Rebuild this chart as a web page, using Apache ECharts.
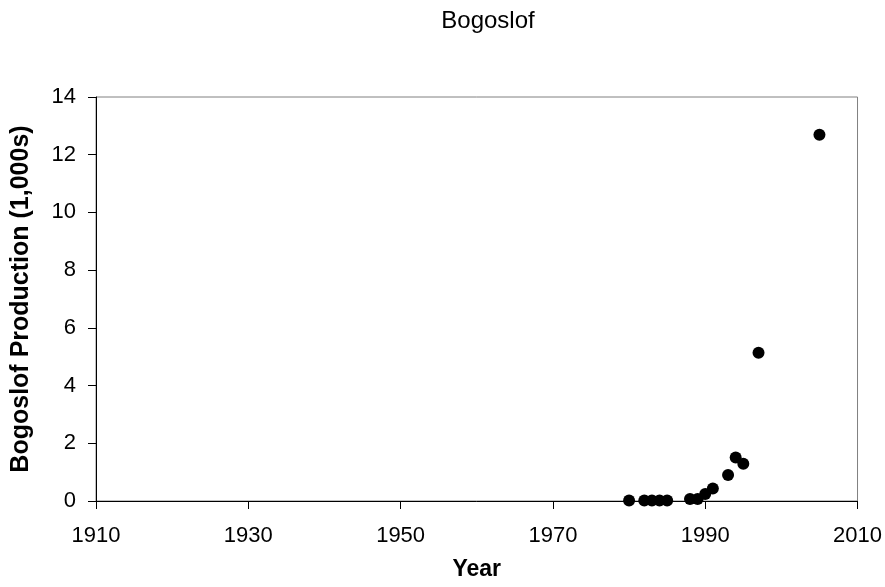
<!DOCTYPE html>
<html><head><meta charset="utf-8">
<script src="https://cdn.jsdelivr.net/npm/echarts@6/dist/echarts.min.js"></script>
<style>html,body{margin:0;padding:0;background:#fff}#c{width:885px;height:587px}</style>
</head><body><div id="c"></div>
<script>
var years = [1980, 1982, 1983, 1984, 1985, 1988, 1989, 1990, 1991, 1993, 1994, 1995, 1997, 2005];
var production = [0.02, 0.02, 0.02, 0.02, 0.02, 0.07, 0.07, 0.24, 0.43, 0.9, 1.51, 1.29, 5.14, 12.69];
var xTicks = [1910, 1930, 1950, 1970, 1990, 2010];
var yTicks = [0, 2, 4, 6, 8, 10, 12, 14];

var chart = echarts.init(document.getElementById('c'), null, {renderer: 'canvas'});
var font = '"Liberation Sans", Arial, sans-serif';
chart.setOption({
  backgroundColor: '#fff',
  animation: false,
  title: {
    text: 'Bogoslof', left: 483, top: 4, textAlign: 'center',
    textStyle: {fontFamily: font, fontSize: 24, fontWeight: 'normal', color: '#000'}
  },
  grid: {left: 96, right: 27, top: 97, bottom: 86, show: true, borderColor: '#808080', borderWidth: 1, backgroundColor: '#fff'},
  xAxis: {
    type: 'value', min: xTicks[0], max: xTicks[xTicks.length - 1],
    name: 'Year', nameLocation: 'middle', nameGap: 57,
    nameTextStyle: {fontFamily: font, fontSize: 23, fontWeight: 'bold', color: '#000'},
    axisLine: {show: true, onZero: false, lineStyle: {color: '#000', width: 1}},
    axisTick: {show: true, length: 8, customValues: xTicks, lineStyle: {color: '#000'}},
    axisLabel: {customValues: xTicks, margin: 24, fontFamily: font, fontSize: 22, color: '#000',
      formatter: function (v) { return String(v); }},
    splitLine: {show: false}
  },
  yAxis: {
    type: 'value', min: yTicks[0], max: yTicks[yTicks.length - 1], interval: 2,
    name: 'Bogoslof Production (1,000s)', nameLocation: 'middle', nameGap: 62,
    nameTextStyle: {fontFamily: font, fontSize: 25, fontWeight: 'bold', color: '#000'},
    axisLine: {show: true, lineStyle: {color: '#000', width: 1}},
    axisTick: {show: true, length: 8, lineStyle: {color: '#000'}},
    axisLabel: {margin: 20, fontFamily: font, fontSize: 22, color: '#000'},
    splitLine: {show: false}
  },
  series: [{
    type: 'scatter',
    symbol: 'circle', symbolSize: 12,
    itemStyle: {color: '#000', opacity: 1},
    data: years.map(function (y, i) { return [y, production[i]]; })
  }]
});
</script></body></html>
